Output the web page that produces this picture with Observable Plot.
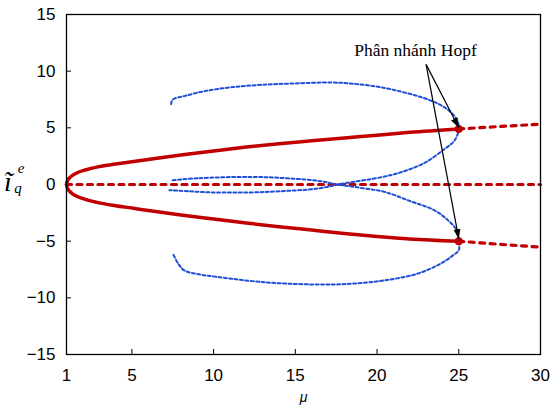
<!DOCTYPE html>
<html>
<head>
<meta charset="utf-8">
<script src="https://cdn.jsdelivr.net/npm/d3@7"></script>
<script src="https://cdn.jsdelivr.net/npm/@observablehq/plot@0.6"></script>
<style>
  html, body { margin: 0; padding: 0; background: #fff; }
  #chart { width: 552px; height: 410px; }
</style>
</head>
<body>
<div id="chart"></div>
<script>
// Tick labels
const xTicks = [1, 5, 10, 15, 20, 25, 30];
const yTicks = [-15, -10, -5, 0, 5, 10, 15];

// Stable equilibrium branches (solid red)
const stableUpperMu = [1, 1.05, 1.25, 1.6, 2.2, 3, 4, 5, 6, 8, 10, 12, 14, 16, 18, 20, 22, 25];
const stableUpperY  = [0, 0.3, 0.67, 1.0, 1.3, 1.58, 1.8, 2.0, 2.2, 2.6, 2.95, 3.3, 3.6, 3.85, 4.1, 4.35, 4.6, 4.9];
const stableLowerMu = [1, 1.05, 1.25, 1.6, 2.2, 3, 4, 5, 6, 8, 10, 12, 14, 16, 18, 20, 22, 25];
const stableLowerY  = [0, -0.3, -0.68, -1.02, -1.33, -1.62, -1.87, -2.08, -2.3, -2.7, -3.05, -3.4, -3.72, -4.02, -4.32, -4.58, -4.8, -5.0];

// Unstable branches (dashed red)
const unstableZeroMu = [1, 30];
const unstableZeroY  = [0, 0];
const unstableUpperMu = [25, 27.5, 30];
const unstableUpperY  = [4.9, 5.12, 5.32];
const unstableLowerMu = [25, 27.5, 30];
const unstableLowerY  = [-5.0, -5.28, -5.53];

// Limit cycle extremes (dotted blue)
const cycleAMu = [7.4, 7.5, 8.2, 9.5, 11.2, 13, 15, 17.2, 18.5, 20.3, 22.3, 23.2, 23.9, 24.5, 24.9, 25,
                  24.75, 24.1, 22.9, 21.5, 20.3, 18, 16.4, 14, 12.3, 10, 8.5, 7.3];
const cycleAY  = [7.1, 7.5, 7.8, 8.25, 8.6, 8.8, 8.92, 9.0, 8.9, 8.56, 7.88, 7.45, 7.0, 6.4, 5.7, 4.9,
                  3.9, 3.1, 1.9, 1.1, 0.65, 0.1, -0.35, -0.6, -0.7, -0.7, -0.6, -0.5];
const cycleBMu = [7.5, 9, 12.3, 14.5, 16.4, 17.6, 19, 20.45, 22, 23.5, 24.3, 24.85, 25,
                  25, 24.6, 23.9, 22.5, 20.5, 18.5, 16.8, 13.3, 10.2, 9, 8.2, 7.8, 7.55];
const cycleBY  = [0.38, 0.55, 0.67, 0.55, 0.32, 0, -0.3, -0.65, -1.45, -2.27, -3.1, -4.0, -5.0,
                  -5.8, -6.3, -6.97, -7.86, -8.45, -8.75, -8.83, -8.65, -8.15, -7.9, -7.57, -6.9, -6.2];

// Hopf points and annotation
const hopfMu = [25, 25];
const hopfY  = [4.9, -5.0];
const annotationText = "Phân nhánh Hopf";
const annotationMu = 22.35;
const annotationY = 11.85;
const arrowFromMu = [23.0, 23.0];
const arrowFromY  = [10.6, 10.6];
const arrowToMu   = [25.0, 25.0];
const arrowToY    = [5.0, -4.8];

const toRows = (xs, ys, s) => xs.map((x, i) => ({mu: x, y: ys[i], s}));

const stable = [...toRows(stableUpperMu, stableUpperY, "u"), ...toRows(stableLowerMu, stableLowerY, "l")];
const unstable = [
  ...toRows(unstableZeroMu, unstableZeroY, "z"),
  ...toRows(unstableUpperMu, unstableUpperY, "u"),
  ...toRows(unstableLowerMu, unstableLowerY, "l")
];
const cycles = [...toRows(cycleAMu, cycleAY, "A"), ...toRows(cycleBMu, cycleBY, "B")];
const hopf = toRows(hopfMu, hopfY, "h");
const arrows = arrowFromMu.map((m, i) => ({x1: m, y1: arrowFromY[i], x2: arrowToMu[i], y2: arrowToY[i]}));

const RED = "#c00000";
const BLUE = "#1f4fd6";

const chart = Plot.plot({
  width: 552,
  height: 410,
  marginLeft: 66,
  marginRight: 12,
  marginTop: 14,
  marginBottom: 56,
  x: {domain: [1, 30], ticks: xTicks},
  y: {domain: [-15, 15], ticks: yTicks},
  style: {fontFamily: "'Liberation Sans', Arial, sans-serif", fontSize: "17px", color: "black", background: "white", overflow: "visible"},
  marks: [
    Plot.axisX(xTicks, {tickSize: -5, tickPadding: 19, label: null, stroke: "black", fill: "black", fontSize: 17}),
    Plot.axisY(yTicks, {tickSize: -5, tickPadding: 16, label: null, stroke: "black", fill: "black", fontSize: 17}),
    Plot.lineY(unstable, {x: "mu", y: "y", z: "s", stroke: RED, strokeWidth: 3.2, strokeDasharray: "5,5.5", strokeLinecap: "round"}),
    Plot.lineY(stable, {x: "mu", y: "y", z: "s", stroke: RED, strokeWidth: 3.5, curve: "monotone-x"}),
    Plot.line(cycles, {x: "mu", y: "y", z: "s", stroke: BLUE, strokeWidth: 2, strokeDasharray: "3,2.4", curve: "catmull-rom"}),
    Plot.dot(hopf, {x: "mu", y: "y", r: 4, fill: RED, stroke: null}),
    Plot.link(arrows, {x1: "x1", y1: "y1", x2: "x2", y2: "y2", stroke: "black", strokeWidth: 1.2, markerEnd: "arrow"}),
    Plot.text([annotationText], {x: annotationMu, y: annotationY, text: d => d, fontFamily: "'Liberation Serif', 'Times New Roman', serif", fontSize: 17.5, fill: "black"}),
    Plot.text(["μ"], {frameAnchor: "bottom", dy: 47, text: d => d, fontStyle: "italic", fontSize: 14, fill: "black"}),
    Plot.frame({stroke: "black", strokeWidth: 1.3})
  ]
});

// Filled arrowheads
d3.select(chart).selectAll("marker")
  .attr("viewBox", "-10 -4 10 8")
  .attr("markerUnits", "userSpaceOnUse")
  .attr("markerWidth", 10)
  .attr("markerHeight", 8)
  .attr("refX", 0)
  .attr("refY", 0)
  .attr("fill", "black")
  .attr("stroke", "none")
  .selectAll("path")
  .attr("d", "M-10,-3.5L0,0L-10,3.5Z");

// Y-axis label: i-tilde with subscript q and superscript e
const serif = "'Liberation Serif', 'Times New Roman', serif";
const lab = d3.select(chart).append("text")
  .attr("font-family", serif)
  .attr("font-style", "italic")
  .attr("fill", "black");
lab.append("tspan").attr("x", 8).attr("y", 191).attr("font-size", 28).text("ĩ");
lab.append("tspan").attr("x", 18).attr("y", 193).attr("font-size", 15).text("q");
lab.append("tspan").attr("x", 21).attr("y", 173).attr("font-size", 15).text("e");

document.getElementById("chart").appendChild(chart);
</script>
</body>
</html>
